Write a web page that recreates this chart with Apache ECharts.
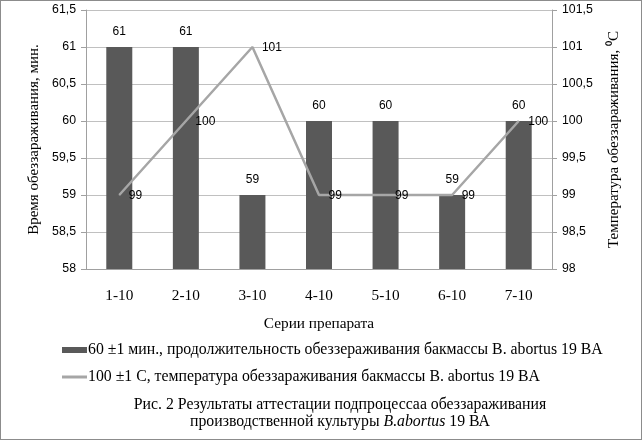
<!DOCTYPE html>
<html>
<head>
<meta charset="utf-8">
<script src="https://cdn.jsdelivr.net/npm/echarts@6/dist/echarts.min.js"></script>
<style>
html, body { margin: 0; padding: 0; background: #fff; }
#chart { width: 640px; height: 438px; border: 1px solid #8c8c8c; }
</style>
</head>
<body>
<div id="chart"></div>
<script>
'use strict';
var categories = ['1-10', '2-10', '3-10', '4-10', '5-10', '6-10', '7-10'];
var durationValues = [61, 61, 59, 60, 60, 59, 60];
var temperatureValues = [99, 100, 101, 99, 99, 99, 100];
var barName = '60 \u00b11 мин., продолжительность обеззераживания бакмассы B. abortus 19 BA';
var lineName = '100 \u00b11 C, температура обеззараживания бакмассы B. abortus 19 BA';

var serif = 'Liberation Serif';
var sans = 'Liberation Sans';
var comma = function(v) { return String(v).replace('.', ','); };

var option = {
	animation: false,
	grid: { left: 85, right: 89, top: 9, bottom: 170 },
	legend: [{
		left: 56, top: 336,
		itemWidth: 25, itemHeight: 6, itemGap: 2,
		icon: 'rect',
		textStyle: { fontFamily: serif, fontSize: 15.8, color: '#000', padding: [0, 0, 0, -4] },
		data: [barName]
	}, {
		left: 56, top: 363,
		itemWidth: 25, itemHeight: 3,
		icon: 'rect',
		textStyle: { fontFamily: serif, fontSize: 15.8, color: '#000', padding: [0, 0, 0, -4] },
		data: [lineName]
	}],
	title: {
		left: 334, top: 390, textAlign: 'center',
		text: '{n|Рис. 2 Результаты аттестации подпроцессаа обеззараживания}\n{n|производственной культуры }{i|B.abortus}{n| 19 ВА}',
		textStyle: {
			rich: {
				n: { fontFamily: serif, fontSize: 15.8, fontWeight: 'normal', color: '#000', lineHeight: 17 },
				i: { fontFamily: serif, fontSize: 15.8, fontWeight: 'normal', color: '#000', fontStyle: 'italic', lineHeight: 17 }
			}
		}
	},
	xAxis: [{
		type: 'category',
		data: categories,
		axisLine: { lineStyle: { color: '#a0a0a0' } },
		axisTick: { show: false },
		axisLabel: { fontFamily: serif, fontSize: 15.3, color: '#000', margin: 19 },
		name: 'Серии препарата',
		nameLocation: 'middle',
		nameGap: 47,
		nameTextStyle: { fontFamily: serif, fontSize: 15.3, color: '#000' }
	}],
	yAxis: [{
		type: 'value',
		min: 58, max: 61.5, interval: 0.5,
		axisLine: { show: true, lineStyle: { color: '#a0a0a0' } },
		axisTick: { show: true, length: 5, lineStyle: { color: '#a0a0a0' } },
		splitLine: { lineStyle: { color: '#c0c0c0' } },
		axisLabel: { fontFamily: sans, fontSize: 12.3, color: '#000', margin: 10, formatter: comma },
		name: 'Время обеззараживания, мин.',
		nameLocation: 'middle',
		nameGap: 37,
		nameTextStyle: { fontFamily: serif, fontSize: 15, color: '#000' }
	}, {
		type: 'value',
		position: 'right',
		min: 98, max: 101.5, interval: 0.5,
		axisLine: { show: true, lineStyle: { color: '#a0a0a0' } },
		axisTick: { show: true, length: 5, lineStyle: { color: '#a0a0a0' } },
		splitLine: { show: false },
		axisLabel: { fontFamily: sans, fontSize: 12.3, color: '#000', margin: 10, formatter: comma },
		name: 'Температура обеззараживания, \u2070C',
		nameLocation: 'middle',
		nameGap: 55,
		nameRotate: 90,
		nameTextStyle: { fontFamily: serif, fontSize: 15, color: '#000' }
	}],
	series: [{
		name: barName,
		type: 'bar',
		data: durationValues,
		barWidth: 26,
		itemStyle: { color: '#595959' },
		label: { show: true, position: 'top', distance: 9, fontFamily: sans, fontSize: 12, color: '#000' }
	}, {
		name: lineName,
		type: 'line',
		yAxisIndex: 1,
		data: temperatureValues,
		symbol: 'circle',
		symbolSize: 1,
		showSymbol: true,
		lineStyle: { color: '#a6a6a6', width: 2.5 },
		itemStyle: { color: '#a6a6a6' },
		label: { show: true, position: 'right', distance: 9, offset: [0, 1], fontFamily: sans, fontSize: 12, color: '#000' },
		z: 3
	}]
};

var myChart = echarts.init(document.getElementById('chart'));
myChart.setOption(option);
</script>
</body>
</html>
